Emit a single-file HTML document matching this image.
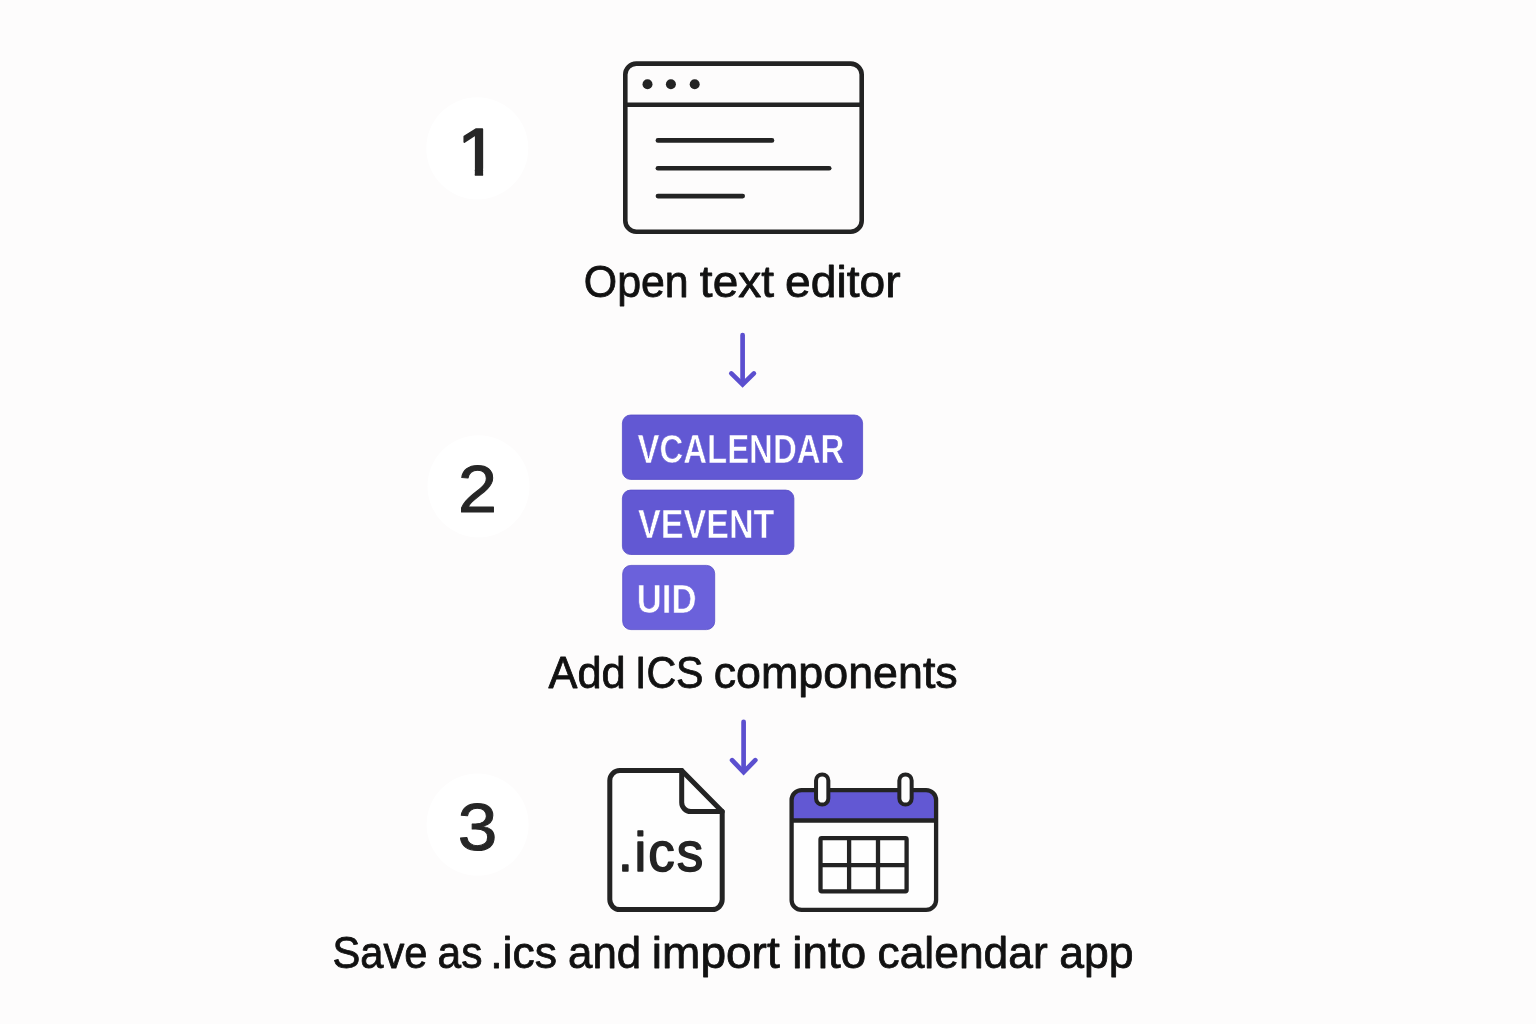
<!DOCTYPE html>
<html lang="en">
<head>
<meta charset="utf-8">
<title>How to create an ICS file in three steps</title>
<style>
  html, body { margin: 0; padding: 0; }
  body { width: 1536px; height: 1024px; overflow: hidden; background: #fdfcfc; }
  /* will-change promotes the drawing to its own layer so text gets plain greyscale anti-aliasing */
  svg { display: block; position: absolute; left: 0; top: 0; will-change: transform; }
  text { font-family: "Liberation Sans", sans-serif; stroke-linejoin: round; }
  .label { fill: #111111; stroke: #111111; stroke-width: 0.8px; font-size: 44.4px; }
  .num { fill: #262626; stroke: #262626; stroke-width: 1.0px; font-size: 67.3px; }
  .pilltext { fill: #ffffff; stroke-width: 0.6px; font-size: 40.5px; font-weight: 700; }
  .ics { fill: #232323; stroke: #232323; stroke-width: 1.5px; font-size: 55.0px; font-weight: 400; letter-spacing: 2.0px; }
  .ink { stroke: #232323; fill: none; stroke-linecap: round; stroke-linejoin: round; }
  .arrow { stroke: #5b4fcf; fill: none; stroke-width: 4.7; stroke-linecap: round; stroke-linejoin: miter; }
</style>
</head>
<body>
<svg width="1536" height="1024" viewBox="0 0 1536 1024" role="img" aria-label="Three steps to create an ICS file">
  <rect width="1536" height="1024" fill="#fdfcfc"/>

  <!-- step number badges -->
  <circle cx="477.3" cy="148.3" r="51" fill="#ffffff"/>
  <circle cx="478.5" cy="486.3" r="51" fill="#ffffff"/>
  <circle cx="477.6" cy="824.6" r="51" fill="#ffffff"/>
  <clipPath id="one-clip"><path d="M430 90 H530 V168.79 H483.10 V176.00 H474.83 V168.79 H430 Z"/></clipPath>
  <text class="num" y="175.2" clip-path="url(#one-clip)" style="font-size:67.0px;stroke-width:1.6px"><tspan x="457.17" textLength="40.99" lengthAdjust="spacingAndGlyphs">1</tspan></text>
  <text class="num" y="512.1"><tspan x="457.90" textLength="38.96" lengthAdjust="spacingAndGlyphs">2</tspan></text>
  <text class="num" y="850.1"><tspan x="457.86" textLength="39.54" lengthAdjust="spacingAndGlyphs">3</tspan></text>

  <!-- step 1: text editor window -->
  <g class="ink" stroke-width="4.6">
    <rect x="625.3" y="63.6" width="236.4" height="168.1" rx="11" ry="11"/>
    <line x1="625.3" y1="104.7" x2="861.7" y2="104.7" stroke-linecap="butt"/>
    <line x1="657.9" y1="140.4" x2="772" y2="140.4"/>
    <line x1="657.9" y1="168.3" x2="829.2" y2="168.3"/>
    <line x1="657.9" y1="196.1" x2="742.7" y2="196.1"/>
  </g>
  <g fill="#232323">
    <circle cx="647.5" cy="84.2" r="5"/>
    <circle cx="670.9" cy="84.2" r="5"/>
    <circle cx="694.7" cy="84.2" r="5"/>
  </g>
  <text class="label" y="296.9"><tspan x="583.85" textLength="104.86" lengthAdjust="spacingAndGlyphs">Open</tspan> <tspan x="699.88" textLength="74.09" lengthAdjust="spacingAndGlyphs">text</tspan> <tspan x="785.14" textLength="115.54" lengthAdjust="spacingAndGlyphs">editor</tspan></text>

  <!-- arrow 1 -->
  <g class="arrow">
    <line x1="742.6" y1="335" x2="742.6" y2="383"/>
    <polyline points="731.3,373.4 742.6,384.4 753.9,373.4"/>
  </g>

  <!-- step 2: ICS component pills -->
  <rect x="622.4" y="415.0" width="240.2" height="64.4" rx="8.2" ry="8.2" fill="#6258d3" stroke="#574cc6" stroke-width="0.8"/>
  <rect x="622.4" y="490.1" width="171.5" height="64.4" rx="8.2" ry="8.2" fill="#6258d3" stroke="#574cc6" stroke-width="0.8"/>
  <rect x="622.7" y="565.4" width="92.0" height="64.2" rx="8.2" ry="8.2" fill="#6b61db" stroke="#574cc6" stroke-width="0.8"/>
  <text class="pilltext" y="463.1" stroke="#6258d3"><tspan x="637.46" textLength="206.82" lengthAdjust="spacingAndGlyphs">VCALENDAR</tspan></text>
  <text class="pilltext" y="538.2" stroke="#6258d3"><tspan x="637.95" textLength="136.44" lengthAdjust="spacingAndGlyphs">VEVENT</tspan></text>
  <text class="pilltext" y="613.4" stroke="#6b61db"><tspan x="636.72" textLength="59.94" lengthAdjust="spacingAndGlyphs">UID</tspan></text>
  <text class="label" y="687.8"><tspan x="548.49" textLength="77.13" lengthAdjust="spacingAndGlyphs">Add</tspan> <tspan x="634.96" textLength="68.62" lengthAdjust="spacingAndGlyphs">ICS</tspan> <tspan x="713.69" textLength="244.07" lengthAdjust="spacingAndGlyphs">components</tspan></text>

  <!-- arrow 2 -->
  <g class="arrow">
    <line x1="743.6" y1="721.8" x2="743.6" y2="770.5"/>
    <polyline points="732.1,760.2 743.6,772.1 755.3,760.2"/>
  </g>

  <!-- step 3: .ics file icon -->
  <g class="ink" stroke-width="5">
    <path d="M681.7 770.5 H619.8 A10 10 0 0 0 609.8 780.5 V899.6 A10 10 0 0 0 619.8 909.6 H712.2 A10 10 0 0 0 722.2 899.6 V811.5 Z" fill="#fefefe"/>
    <path d="M681.7 770.5 V802.5 A9 9 0 0 0 690.7 811.5 H722.2"/>
  </g>
  <text class="ics" y="871.3"><tspan x="617.90" textLength="87.21" lengthAdjust="spacingAndGlyphs">.ics</tspan></text>

  <!-- step 3: calendar icon -->
  <g class="ink" stroke-width="4.3">
    <rect x="791.6" y="790.1" width="144.5" height="119.8" rx="10" ry="10" fill="#fefefe" stroke="none"/>
    <path d="M791.6 820.5 V800.1 A10 10 0 0 1 801.6 790.1 H926.1 A10 10 0 0 1 936.1 800.1 V820.5 Z" fill="#6258d3" stroke="none"/>
    <rect x="791.6" y="790.1" width="144.5" height="119.8" rx="10" ry="10"/>
    <line x1="791.6" y1="820.5" x2="936.1" y2="820.5" stroke-linecap="butt"/>
    <rect x="816.05" y="774.4" width="12.3" height="30.2" rx="6.15" ry="6.15" fill="#fefefe" stroke-width="4"/>
    <rect x="899.35" y="774.4" width="12.3" height="30.2" rx="6.15" ry="6.15" fill="#fefefe" stroke-width="4"/>
    <rect x="820.5" y="838.2" width="86.1" height="53.1" rx="1.2" ry="1.2"/>
    <line x1="849.1" y1="838.2" x2="849.1" y2="891.3" stroke-linecap="butt"/>
    <line x1="878" y1="838.2" x2="878" y2="891.3" stroke-linecap="butt"/>
    <line x1="820.5" y1="865.1" x2="906.6" y2="865.1" stroke-linecap="butt"/>
  </g>
  <text class="label" y="967.9"><tspan x="332.50" textLength="94.98" lengthAdjust="spacingAndGlyphs">Save</tspan> <tspan x="437.57" textLength="44.86" lengthAdjust="spacingAndGlyphs">as</tspan> <tspan x="490.19" textLength="66.81" lengthAdjust="spacingAndGlyphs">.ics</tspan> <tspan x="568.12" textLength="73.12" lengthAdjust="spacingAndGlyphs">and</tspan> <tspan x="651.80" textLength="127.94" lengthAdjust="spacingAndGlyphs">import</tspan> <tspan x="792.32" textLength="73.80" lengthAdjust="spacingAndGlyphs">into</tspan> <tspan x="877.50" textLength="170.18" lengthAdjust="spacingAndGlyphs">calendar</tspan> <tspan x="1059.19" textLength="74.39" lengthAdjust="spacingAndGlyphs">app</tspan></text>
</svg>
</body>
</html>
